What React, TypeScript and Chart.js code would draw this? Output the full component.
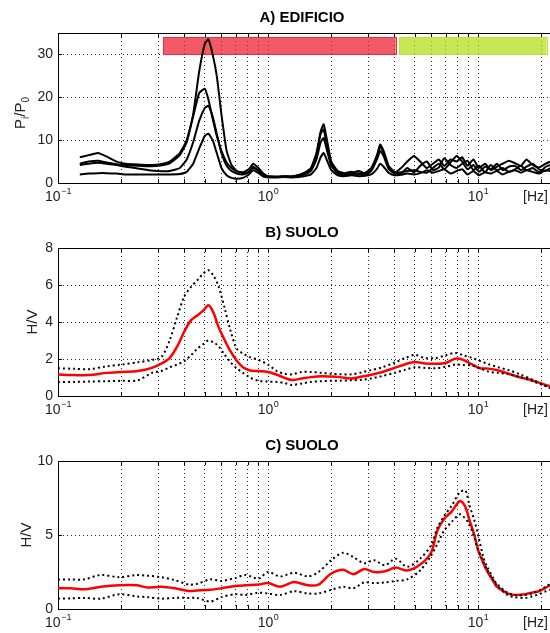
import React, { useEffect, useRef } from 'react';
import { Chart, registerables } from 'chart.js';

Chart.register(...registerables);

const FONT = "'Liberation Sans', Arial, Helvetica, sans-serif";

// ---- shared x axis ----
const xMin = 0.1;
const xMax = 22;
const xGridValues = [0.1, 0.2, 0.3, 0.4, 0.5, 0.6, 0.7, 0.8, 0.9, 1, 2, 3, 4, 5, 6, 7, 8, 9, 10, 20];
const xLabelValues = [0.1, 1, 10];
const xLabelExponents = ['\u22121', '0', '1'];
const xUnitLabel = '[Hz]';

// ---- Panel A : EDIFICIO ----
const titleA = 'A) EDIFICIO';
const yTicksA = [0, 10, 20, 30];
const yMaxA = 35;
const freqA = [
  0.127, 0.14, 0.155, 0.17, 0.19, 0.21, 0.24, 0.27, 0.3, 0.34,
  0.38, 0.41, 0.44, 0.47, 0.5, 0.52, 0.545, 0.57, 0.6, 0.635,
  0.67, 0.71, 0.76, 0.81, 0.85, 0.9, 0.95, 1.0, 1.1, 1.2,
  1.3, 1.4, 1.5, 1.6, 1.7, 1.78, 1.84, 1.9, 2.0, 2.15,
  2.3, 2.5, 2.7, 2.9, 3.1, 3.3, 3.42, 3.55, 3.75, 4.0,
  4.3, 4.6, 4.95, 5.3, 5.7, 6.1, 6.5, 6.9, 7.4, 7.9,
  8.4, 8.9, 9.5, 10.1, 10.8, 11.5, 12.3, 13.1, 14, 15,
  16, 17, 18.2, 19.5, 21, 22,
];
const edificio1 = [
  4.5, 5.0, 5.2, 4.8, 4.4, 4.2, 4.0, 3.9, 4.0, 4.6,
  6.5, 9.5, 16, 26, 32.5, 33.5, 30, 25, 16, 7.5,
  4.2, 2.8, 2.3, 2.6, 3.5, 2.8, 1.8, 1.5, 1.4, 1.5,
  1.6, 1.9, 2.5, 3.5, 7.0, 12.0, 13.7, 10.5, 5.0, 2.8,
  2.3, 2.6, 2.0, 2.4, 3.5, 6.5, 9.0, 7.5, 4.0, 2.6,
  2.5, 2.8, 3.0, 2.6, 2.4, 3.5, 4.5, 3.2, 4.8, 6.3,
  5.0, 3.2, 4.2, 2.6, 3.8, 3.2, 4.5, 3.0, 3.8, 4.0,
  3.0, 3.8, 4.5, 3.2, 2.8, 3.5,
];
const edificio2 = [
  6.0, 6.5, 7.0, 6.2, 5.0, 4.5, 4.3, 4.2, 4.3, 5.0,
  7.0, 10.0, 15.5, 21.0, 22.0, 19.5, 15, 11, 7.5, 4.8,
  3.5, 2.7, 2.5, 3.2, 4.5, 3.5, 2.2, 1.6, 1.5, 1.6,
  1.5, 1.8, 2.3, 3.2, 6.5, 11.5, 12.5, 9.0, 4.5, 2.5,
  2.0, 2.3, 2.8, 2.2, 3.2, 6.0, 8.5, 7.0, 3.8, 2.4,
  3.5, 5.0, 6.3, 5.0, 3.5, 4.5, 5.5, 4.0, 5.5, 5.0,
  6.0, 4.0, 5.5, 3.5, 4.5, 3.0, 3.8, 4.5, 5.2, 4.6,
  4.0, 5.5, 4.2, 3.6, 4.5, 5.0,
];
const edificio3 = [
  4.2, 4.5, 4.7, 4.5, 4.2, 3.8, 3.4, 3.0, 2.8, 2.8,
  3.5, 5.5, 9.5, 14.5, 17.5, 18.0, 15.5, 11.5, 7.0, 4.0,
  2.8, 2.2, 2.0, 2.5, 3.8, 2.9, 1.9, 1.5, 1.4, 1.5,
  1.4, 1.6, 2.0, 2.8, 5.5, 9.5, 10.5, 8.0, 4.0, 2.2,
  1.8, 2.0, 2.3, 1.8, 2.8, 5.5, 7.5, 6.3, 3.3, 2.2,
  2.2, 3.5, 2.5, 4.0, 5.0, 3.0, 3.6, 5.8, 4.2, 3.5,
  4.5, 5.2, 3.0, 4.0, 2.5, 4.2, 3.0, 3.5, 2.6, 3.2,
  4.0, 3.0, 3.5, 2.5, 3.8, 4.2,
];
const edificio4 = [
  2.0, 2.2, 2.3, 2.3, 2.2, 2.0, 2.0, 2.0, 2.0, 2.0,
  2.1, 2.6, 4.5, 8.0, 11.0, 11.5, 10.0, 7.0, 3.5, 1.8,
  1.2, 1.0, 1.2, 2.0, 3.0, 2.3, 1.5, 1.3, 1.3, 1.4,
  1.3, 1.4, 1.6, 2.0, 3.5, 6.0, 7.0, 5.5, 3.0, 1.8,
  1.6, 1.8, 1.6, 1.7, 2.0, 3.3, 4.5, 3.8, 2.4, 1.8,
  1.9, 2.2, 2.0, 2.3, 3.0, 2.4, 2.8, 3.2, 2.2, 2.8,
  3.2, 2.0, 2.8, 1.8, 2.5, 2.2, 2.8, 2.0, 2.6, 3.0,
  2.4, 3.0, 2.6, 2.2, 3.0, 2.8,
];
const bandFrom = [0.316, 4.2];
const bandTo = [4.05, 21.2];
const bandBottom = [30, 30];
const bandTop = [34, 34];

// ---- Panel B : SUOLO ----
const titleB = 'B) SUOLO';
const yTicksB = [0, 2, 4, 6, 8];
const yMaxB = 8;
const freqB = [
  0.1, 0.12, 0.14, 0.17, 0.2, 0.24, 0.28, 0.31, 0.34, 0.37,
  0.4, 0.43, 0.46, 0.49, 0.52, 0.55, 0.58, 0.62, 0.66, 0.71,
  0.76, 0.82, 0.9, 1.0, 1.1, 1.2, 1.3, 1.45, 1.6, 1.8,
  2.0, 2.2, 2.5, 2.8, 3.1, 3.5, 4.0, 4.5, 5.0, 5.6,
  6.3, 7.0, 7.8, 8.5, 9.3, 10.2, 11.2, 12.5, 14, 16,
  18, 20, 22,
];
const meanB = [
  1.16, 1.13, 1.13, 1.25, 1.3, 1.35, 1.52, 1.75, 2.05, 2.7,
  3.5, 4.1, 4.35, 4.6, 4.9, 4.5, 3.75, 3.05, 2.45, 1.9,
  1.55, 1.38, 1.35, 1.3, 1.15, 0.98, 0.86, 0.95, 1.02, 1.07,
  1.05, 1.02, 0.95, 1.05, 1.15, 1.3, 1.52, 1.72, 1.84, 1.76,
  1.74, 1.78, 2.02, 1.95, 1.72, 1.5, 1.48, 1.38, 1.2, 1.0,
  0.85, 0.68, 0.52,
];
const upperB = [
  1.5, 1.47, 1.45, 1.6, 1.7, 1.82, 1.95, 2.1, 3.0, 4.3,
  5.4, 5.9, 6.25, 6.6, 6.8, 6.5, 5.95, 4.8, 3.6, 2.55,
  2.3, 2.1, 1.95, 1.7, 1.35, 1.2, 1.17, 1.3, 1.3, 1.25,
  1.2, 1.18, 1.17, 1.28, 1.4, 1.55, 1.8, 2.05, 2.22, 2.05,
  2.05, 2.2, 2.33, 2.2, 2.07, 1.9, 1.72, 1.55, 1.4, 1.15,
  0.9, 0.65, 0.42,
];
const lowerB = [
  0.75, 0.76, 0.78, 0.8, 0.82, 0.85, 1.25, 1.35, 1.55, 1.7,
  1.9, 2.2, 2.55, 2.8, 3.0, 2.9, 2.7, 2.25, 1.85, 1.5,
  1.25, 1.0, 0.82, 0.78, 0.76, 0.7, 0.6, 0.68, 0.76, 0.8,
  0.82, 0.83, 0.85, 0.88, 0.95, 1.08, 1.25, 1.42, 1.55, 1.52,
  1.5, 1.58, 1.7, 1.68, 1.65, 1.5, 1.32, 1.25, 1.18, 1.0,
  0.82, 0.62, 0.48,
];

// ---- Panel C : SUOLO ----
const titleC = 'C) SUOLO';
const yTicksC = [0, 5, 10];
const yMaxC = 10;
const freqC = [
  0.1, 0.115, 0.133, 0.16, 0.196, 0.237, 0.266, 0.31, 0.36, 0.42,
  0.46, 0.53, 0.6, 0.7, 0.78, 0.9, 1.0, 1.14, 1.33, 1.55,
  1.74, 2.0, 2.28, 2.55, 2.87, 3.2, 3.6, 4.05, 4.6, 5.3,
  5.97, 6.4, 6.9, 7.5, 8.2, 8.7, 9.1, 9.6, 10.0, 10.6,
  11.0, 11.9, 12.3, 13.8, 15, 16.8, 18, 19.5, 21, 22,
];
const meanC = [
  1.4, 1.4, 1.33, 1.5, 1.6, 1.6, 1.45, 1.5, 1.4, 1.22,
  1.25, 1.3, 1.4, 1.55, 1.6, 1.65, 1.75, 1.5, 1.82, 1.6,
  1.65, 2.4, 2.65, 2.35, 2.7, 2.5, 2.55, 2.8, 2.6, 3.0,
  3.8, 5.3, 6.1, 6.6, 7.3, 6.9, 6.0, 5.0, 4.0, 3.1,
  2.6, 1.8, 1.5, 1.05, 0.95, 1.0, 1.1, 1.2, 1.45, 1.6,
];
const upperC = [
  2.0, 2.0, 2.0, 2.3, 2.15, 2.3, 2.25, 2.15, 1.95, 1.65,
  1.7, 2.0, 1.9, 2.1, 2.3, 2.05, 2.5, 2.2, 2.45, 2.2,
  2.5, 3.3, 3.8, 3.5, 3.1, 3.3, 2.95, 3.4, 2.85, 3.4,
  4.3, 5.5, 6.3, 7.0, 7.9, 8.0, 7.0, 6.0, 5.0, 3.5,
  2.9, 2.0, 1.7, 1.1, 0.95, 0.95, 1.05, 1.25, 1.5, 1.7,
];
const lowerC = [
  0.7, 0.72, 0.75, 0.7, 1.0, 0.85, 0.8, 0.7, 0.75, 0.75,
  0.75, 0.5, 0.8, 1.0, 0.95, 1.1, 1.05, 0.95, 1.2, 1.05,
  1.05, 1.3, 1.5, 1.4, 1.8, 1.75, 1.8, 1.9, 2.0, 2.6,
  3.6, 4.4, 5.3, 5.9, 6.4, 6.1, 5.7, 4.8, 4.0, 3.2,
  2.7, 1.9, 1.6, 0.95, 0.8, 0.75, 0.85, 1.0, 1.2, 1.3,
];

type Series = { values: number[]; color: string; width: number; dash?: number[]; tension: number };
type TitlePart = { text: string; sub?: boolean };
type PanelProps = {
  top: number;
  height: number;
  plotTop: number;
  plotBottom: number;
  freq: number[];
  series: Series[];
  yMax: number;
  yTicks: number[];
  title: string;
  yTitle: TitlePart[];
  yTitleX: number;
  yTitleY: number;
  bands?: boolean;
};

function makeDecor(p: PanelProps) {
  return {
    id: 'decor',
    beforeDatasetsDraw(chart: any) {
      if (!p.bands) return;
      const { ctx, scales } = chart;
      const xs = scales.x;
      const ys = scales.y;
      const fills = ['rgba(236, 20, 40, 0.7)', 'rgba(178, 222, 20, 0.72)'];
      const strokes = ['#e8303c', '#bde040'];
      ctx.save();
      for (let i = 0; i < bandFrom.length; i++) {
        const x1 = xs.getPixelForValue(bandFrom[i]);
        const x2 = xs.getPixelForValue(bandTo[i]);
        const y1 = ys.getPixelForValue(bandTop[i]);
        const y2 = ys.getPixelForValue(bandBottom[i]);
        ctx.fillStyle = fills[i];
        ctx.fillRect(x1, y1, x2 - x1, y2 - y1);
        ctx.strokeStyle = strokes[i];
        ctx.lineWidth = 1;
        ctx.strokeRect(Math.round(x1) + 0.5, Math.round(y1) + 0.5, Math.round(x2 - x1), Math.round(y2 - y1));
      }
      ctx.restore();
    },
    afterDraw(chart: any) {
      const { ctx, chartArea: ca, scales } = chart;
      const xs = scales.x;
      const ys = scales.y;
      ctx.save();
      // top border + inner ticks
      ctx.strokeStyle = '#000';
      ctx.lineWidth = 1;
      ctx.setLineDash([]);
      ctx.beginPath();
      const t = Math.round(ca.top) + 0.5;
      ctx.moveTo(ca.left, t);
      ctx.lineTo(ca.right, t);
      for (const v of xGridValues) {
        const px = Math.round(xs.getPixelForValue(v)) + 0.5;
        ctx.moveTo(px, ca.bottom);
        ctx.lineTo(px, ca.bottom - 4);
        ctx.moveTo(px, ca.top);
        ctx.lineTo(px, ca.top + 4);
      }
      for (const v of p.yTicks) {
        const py = Math.round(ys.getPixelForValue(v)) + 0.5;
        ctx.moveTo(ca.left, py);
        ctx.lineTo(ca.left + 4, py);
      }
      ctx.stroke();

      // x tick labels with exponent
      ctx.fillStyle = '#222';
      ctx.textBaseline = 'alphabetic';
      ctx.textAlign = 'left';
      const base = ca.bottom + 18;
      for (let i = 0; i < xLabelValues.length; i++) {
        const px = xs.getPixelForValue(xLabelValues[i]);
        ctx.font = `14px ${FONT}`;
        const w1 = ctx.measureText('10').width;
        ctx.font = `9px ${FONT}`;
        const w2 = ctx.measureText(xLabelExponents[i]).width;
        const start = px - (w1 + w2) / 2;
        ctx.font = `14px ${FONT}`;
        ctx.fillText('10', start, base);
        ctx.font = `9px ${FONT}`;
        ctx.fillText(xLabelExponents[i], start + w1 + 0.5, base - 7);
      }
      ctx.font = `14px ${FONT}`;
      ctx.fillText(xUnitLabel, 523, base);

      // title
      ctx.font = `bold 15px ${FONT}`;
      ctx.textAlign = 'center';
      ctx.textBaseline = 'middle';
      ctx.fillStyle = '#000';
      ctx.fillText(p.title, 302, ca.top - 15);

      // y title (rotated, with subscripts)
      ctx.translate(p.yTitleX, p.yTitleY);
      ctx.rotate(-Math.PI / 2);
      ctx.textAlign = 'left';
      ctx.textBaseline = 'alphabetic';
      ctx.fillStyle = '#222';
      let total = 0;
      const widths: number[] = [];
      for (const part of p.yTitle) {
        ctx.font = part.sub ? `10px ${FONT}` : `15px ${FONT}`;
        const w = ctx.measureText(part.text).width;
        widths.push(w);
        total += w;
      }
      let cx = -total / 2;
      p.yTitle.forEach((part, i) => {
        ctx.font = part.sub ? `10px ${FONT}` : `15px ${FONT}`;
        ctx.fillText(part.text, cx, part.sub ? 4 : 0);
        cx += widths[i];
      });
      ctx.restore();
    },
  };
}

function Panel(p: PanelProps) {
  const ref = useRef<HTMLCanvasElement | null>(null);
  useEffect(() => {
    const canvas = ref.current;
    if (!canvas) return;
    const chart = new Chart(canvas, {
      type: 'line',
      data: {
        datasets: p.series.map((s) => ({
          data: p.freq.map((f, i) => ({ x: f, y: s.values[i] })),
          borderColor: s.color,
          borderWidth: s.width,
          borderDash: s.dash || [],
          pointRadius: 0,
          tension: s.tension,
          fill: false,
        })),
      },
      options: {
        animation: false,
        responsive: false,
        devicePixelRatio: 1,
        events: [],
        layout: { padding: { top: p.plotTop, left: 0, right: 0, bottom: 0 } },
        plugins: {
          legend: { display: false },
          tooltip: { enabled: false },
          title: { display: false },
        },
        scales: {
          x: {
            type: 'logarithmic',
            min: xMin,
            max: xMax,
            bounds: 'data',
            afterBuildTicks: (s: any) => {
              s.ticks = xGridValues.map((v) => ({ value: v }));
            },
            afterFit: (s: any) => {
              s.height = p.height - p.plotBottom;
            },
            ticks: { display: false },
            grid: { color: 'rgba(0,0,0,0.85)', lineWidth: 1, drawTicks: false },
            border: { display: true, color: '#000', width: 1, dash: [1, 3] },
          },
          y: {
            type: 'linear',
            min: 0,
            max: p.yMax,
            bounds: 'data',
            afterBuildTicks: (s: any) => {
              s.ticks = p.yTicks.map((v) => ({ value: v }));
            },
            afterFit: (s: any) => {
              s.width = 58;
            },
            ticks: { font: { family: FONT, size: 14 }, color: '#222', padding: 5 },
            grid: { color: 'rgba(0,0,0,0.85)', lineWidth: 1, drawTicks: false },
            border: { display: true, color: '#000', width: 1, dash: [1, 3] },
          },
        },
      } as any,
      plugins: [makeDecor(p)],
    });
    return () => chart.destroy();
  }, []);
  return (
    <div style={{ position: 'absolute', left: 0, top: p.top, width: 550, height: p.height }}>
      <canvas ref={ref} width={550} height={p.height} style={{ display: 'block', width: 550, height: p.height }} />
    </div>
  );
}

const black = (v: number[]): Series => ({ values: v, color: '#000', width: 2, tension: 0.15 });
const red = (v: number[]): Series => ({ values: v, color: '#ff0000', width: 2.5, tension: 0.3 });
const dotted = (v: number[]): Series => ({ values: v, color: '#000', width: 2, dash: [2, 3], tension: 0.3 });

export default function App() {
  return (
    <div style={{ position: 'absolute', left: 0, top: 0, width: 550, height: 633, background: '#fff', overflow: 'hidden' }}>
      <Panel
        top={0}
        height={210}
        plotTop={33}
        plotBottom={183}
        freq={freqA}
        series={[black(edificio4), black(edificio3), black(edificio2), black(edificio1)]}
        yMax={yMaxA}
        yTicks={yTicksA}
        title={titleA}
        yTitle={[{ text: 'P' }, { text: 'i', sub: true }, { text: '/P' }, { text: '0', sub: true }]}
        yTitleX={25}
        yTitleY={113}
        bands
      />
      <Panel
        top={210}
        height={210}
        plotTop={38}
        plotBottom={186}
        freq={freqB}
        series={[dotted(upperB), dotted(lowerB), red(meanB)]}
        yMax={yMaxB}
        yTicks={yTicksB}
        title={titleB}
        yTitle={[{ text: 'H/V' }]}
        yTitleX={37}
        yTitleY={112}
      />
      <Panel
        top={420}
        height={213}
        plotTop={41}
        plotBottom={189}
        freq={freqC}
        series={[dotted(upperC), dotted(lowerC), red(meanC)]}
        yMax={yMaxC}
        yTicks={yTicksC}
        title={titleC}
        yTitle={[{ text: 'H/V' }]}
        yTitleX={31}
        yTitleY={115}
      />
    </div>
  );
}
